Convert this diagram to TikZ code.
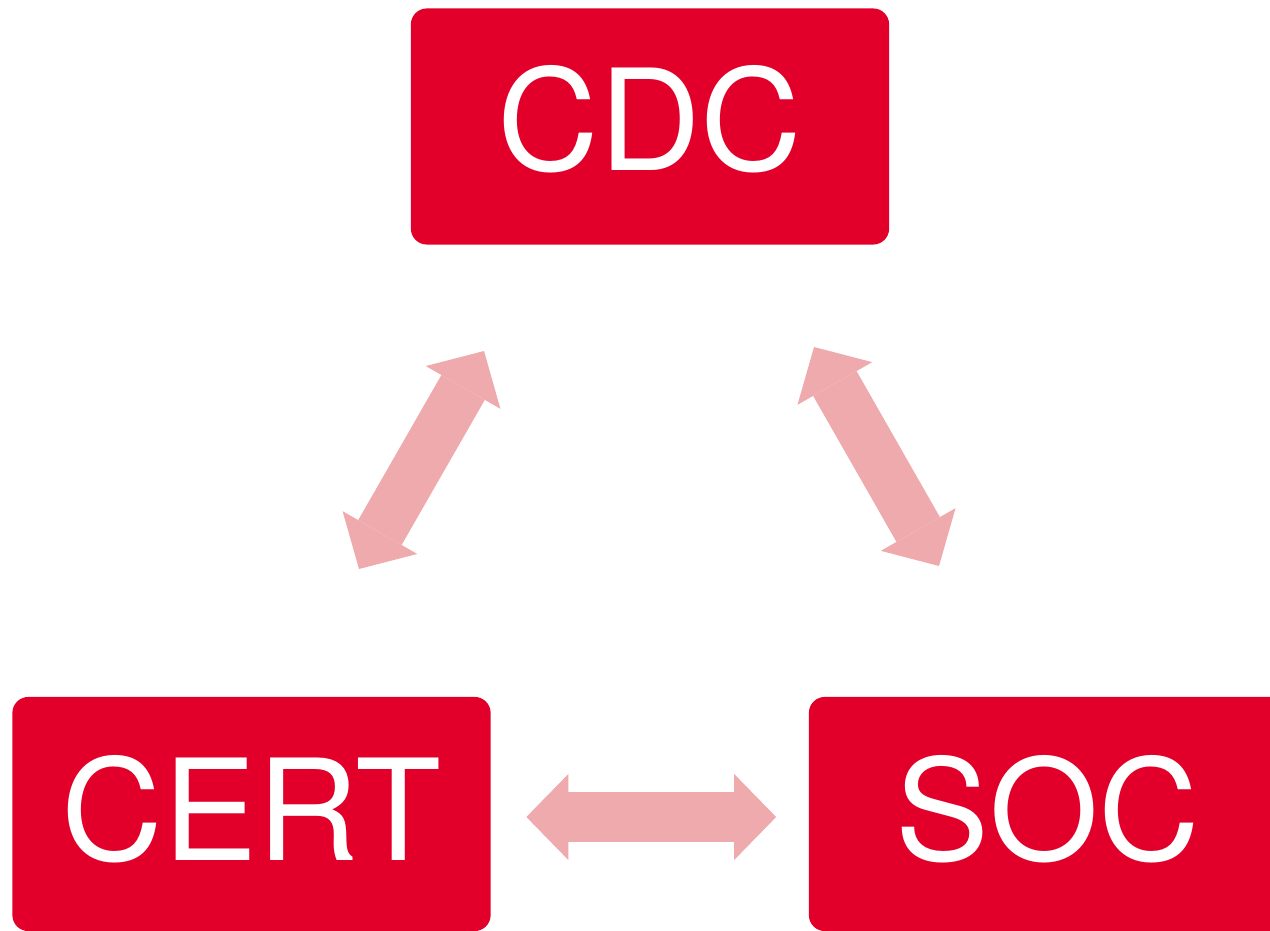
\documentclass[tikz,border=0pt]{standalone}
\usepackage{fontspec}
\setsansfont{TeX Gyre Heros}
\usetikzlibrary{arrows.meta}
\definecolor{boxred}{RGB}{226,0,43}
\definecolor{arrowpink}{RGB}{239,170,173}

\begin{document}
\begin{tikzpicture}[x=0.01cm,y=-0.01cm,
  team/.style={fill=boxred,rounded corners=0.16cm,minimum width=4.78cm,minimum height=2.36cm,
    text=white,font=\sffamily\fontsize{40}{40}\selectfont,text depth=0.12cm},
  link/.style={arrowpink,line width=0.5cm,
    {Triangle[length=0.42cm,width=0.86cm,line width=0pt]}-{Triangle[length=0.42cm,width=0.86cm,line width=0pt]}}]

\clip (0,0) rectangle (1270,931);

\node[team,text depth=0.18cm] (cdc) at (650,126.5) {CDC};
\node[team,minimum height=2.34cm] (cert) at (251.5,814) {CERT};
\node[team,minimum height=2.34cm] (soc) at (1048,814) {SOC};

\coordinate (cdcl) at (484,351);\coordinate (certu) at (359,569);
\coordinate (cdcr) at (814,347);\coordinate (socu) at (939,566);

\draw[link] (certu) -- (cdcl);
\draw[link] (cdcr) -- (socu);
\draw[link,shorten <=0.35cm,shorten >=0.32cm] ([yshift=-0.03cm]cert.east) -- ([yshift=-0.03cm]soc.west);

\end{tikzpicture}
\end{document}
